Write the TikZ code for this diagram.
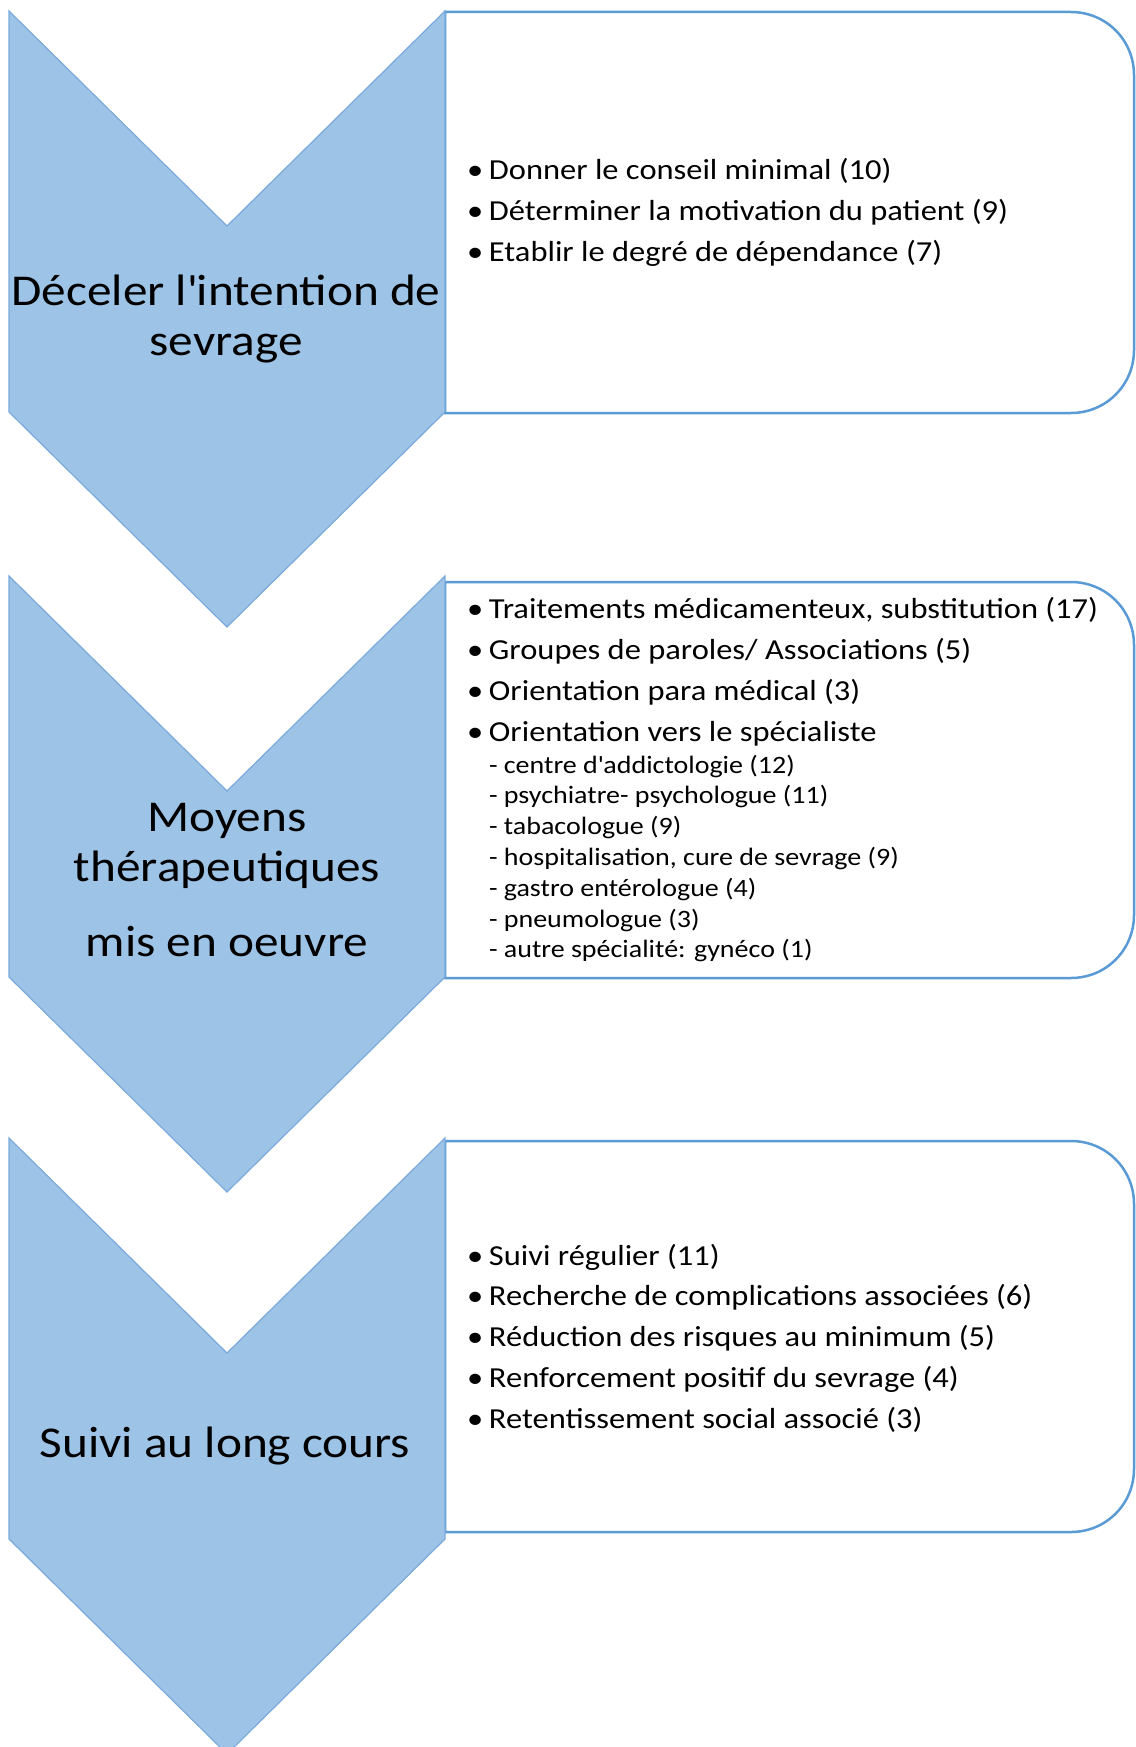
\documentclass[tikz,border=0pt]{standalone}
\usepackage{fontspec}
\setmainfont{Carlito}[FakeStretch=1.12]
\usepackage{xcolor}
\usepackage{tikz}

\definecolor{chevfill}{RGB}{157,195,230}
\definecolor{chevline}{RGB}{122,170,220}
\definecolor{boxline}{RGB}{91,155,213}

\begin{document}
\begin{tikzpicture}[x=1pt, y=-1pt, inner sep=0, outer sep=0,
    chevron/.style={fill=chevfill, draw=chevline, line width=1.2pt},
    listbox/.style={draw=boxline, fill=white, line width=2.5pt},
    steplabel/.style={font=\fontsize{44}{50}\selectfont, align=center},
    bulletitem/.style={font=\fontsize{29}{35}\selectfont, anchor=base west},
    subitem/.style={font=\fontsize{25}{30}\selectfont, anchor=base west}]

        \useasboundingbox (0,0) rectangle (1135,1747);

        % text boxes, rounded on the right
        \foreach \t/\b in {12/413, 582/978, 1141/1532}{
            \draw [listbox] (445,\t) -- (1071,\t) .. controls (1106,\t) and (1134,\t+28) .. (1134,\t+63)
                -- (1134,\b-63) .. controls (1134,\b-28) and (1106,\b) .. (1071,\b) -- (445,\b) -- cycle;
        }

        % chevrons
        \foreach \t in {11, 576, 1138}{
            \draw [chevron] (9,\t) -- (227,\t+215) -- (445,\t) -- (445,\t+401) -- (227,\t+616) -- (9,\t+401) -- cycle;
        }

        \node [steplabel] (lab1) at (226,319) {Déceler l\textquotesingle intention de\\sevrage};
        \node [steplabel] (lab2) at (227,880) {Moyens\\thérapeutiques\\[25pt]mis en oeuvre};
        \node [steplabel, anchor=base] (lab3) at (225,1457) {Suivi au long cours};

        \foreach \txt [count=\i] in {Donner le conseil minimal (10), Déterminer la motivation  du patient (9),
            Etablir le degré de dépendance (7)}
            \node [bulletitem] (a\i) at (467,180+40.7*\i-40.7) {\makebox[22pt][l]{\textbullet}\txt};

        \foreach \txt [count=\i] in {{Traitements médicamenteux, substitution (17)}, Groupes de paroles/ Associations (5),
            Orientation para médical (3), Orientation vers le spécialiste}
            \node [bulletitem] (b\i) at (467,618+41.3*\i-41.3) {\makebox[22pt][l]{\textbullet}\txt};

        \foreach \txt [count=\i] in {- centre d\textquotesingle addictologie  (12), - psychiatre-  psychologue  (11),
            - tabacologue (9), {- hospitalisation,  cure de sevrage (9)}, - gastro entérologue (4),
            - pneumologue  (3), - autre spécialité: gynéco (1)}
            \node [subitem] (s\i) at (489,773+30.8*\i-30.8) {\txt};

        \foreach \txt [count=\i] in {Suivi régulier (11), Recherche de complications associées (6),
            Réduction des risques au minimum  (5), Renforcement  positif du sevrage (4), Retentissement social associé (3)}
            \node [bulletitem] (c\i) at (467,1265+40.8*\i-40.8) {\makebox[22pt][l]{\textbullet}\txt};

\end{tikzpicture}
\end{document}
